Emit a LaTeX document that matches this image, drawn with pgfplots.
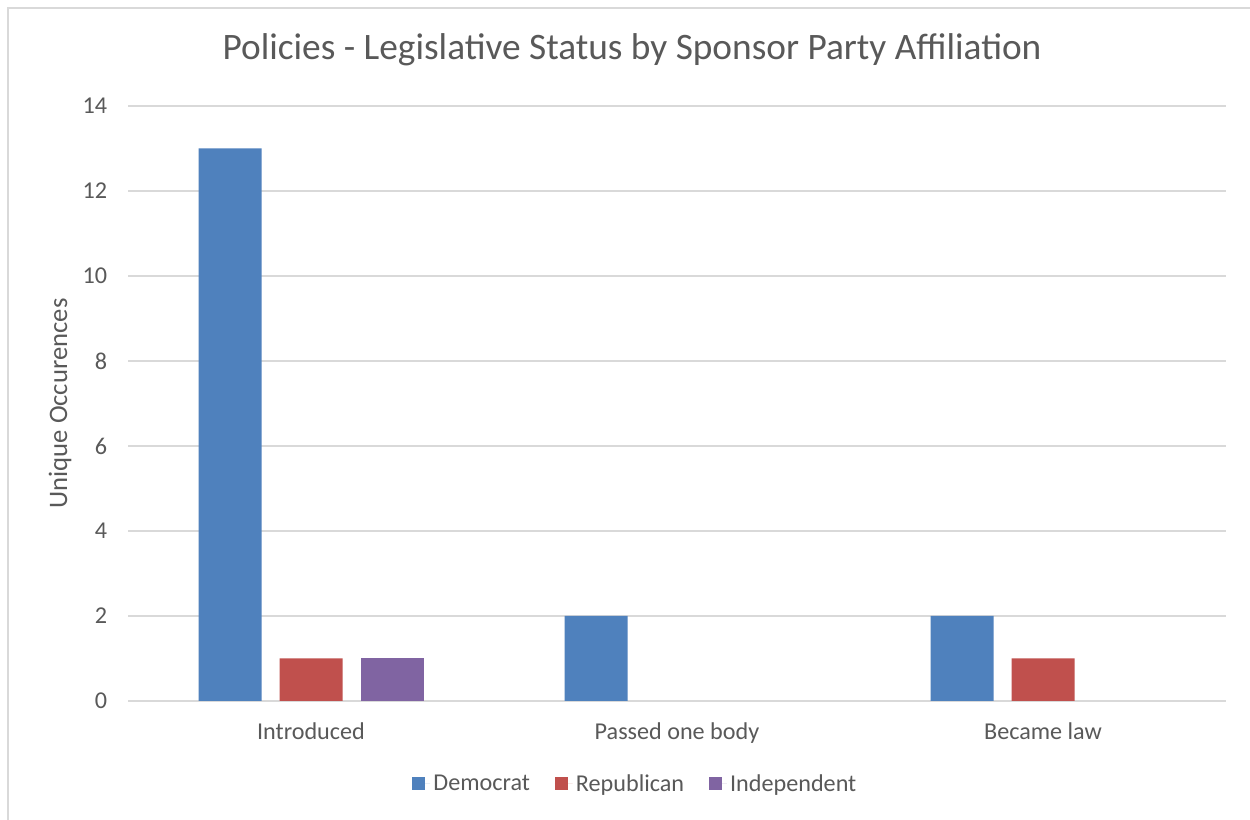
\documentclass[border=0pt]{standalone}
\usepackage{pgfplots}
\pgfplotsset{compat=1.18}
\usepackage{fontspec}
\setmainfont{Carlito}
\definecolor{dem}{HTML}{4F81BD}
\definecolor{rep}{HTML}{C0504D}
\definecolor{ind}{HTML}{8064A2}
\definecolor{gridc}{HTML}{D9D9D9}
\definecolor{txt}{HTML}{595959}
\begin{document}
\begin{tikzpicture}
\useasboundingbox (0pt,0pt) rectangle (750pt,492pt);
\fill[white] (0pt,0pt) rectangle (750pt,492pt);
\draw[gridc, line width=0.9pt] (4.8pt,0pt) -- (4.8pt,487.2pt) -- (750pt,487.2pt);
\node[txt, font=\fontsize{22.4}{26}\selectfont] at (379.2pt,462pt) {Policies - Legislative Status by Sponsor Party Affiliation};
\node[txt, font=\fontsize{16}{19}\selectfont, rotate=90] at (36pt,249.9pt) {Unique Occurences};
\begin{axis}[
  at={(76.8pt,71.4pt)}, anchor=south west,
  scale only axis, width=658.8pt, height=357pt,
  xmin=-0.5, xmax=2.5, ymin=0, ymax=14,
  ytick={0,2,...,14},
  xtick={0,1,2},
  xticklabels={Introduced, Passed one body, Became law},
  ymajorgrids, grid style={gridc, line width=0.9pt},
  axis line style={draw=none},
  major tick length=0pt,
  tick label style={txt, font=\fontsize{14.5}{17}\selectfont},
  /pgf/number format/assume math mode=true,
  yticklabel shift=9pt,
  xticklabel shift=9.6pt,
  ybar=10.8pt, bar width=37.8pt,
  legend columns=3,
  legend style={draw=none, fill=none, at={(0.4627,-0.1395)}, anchor=center,
    font=\fontsize{14.5}{17}\selectfont, text=txt,
    /tikz/every even column/.append style={column sep=13pt}},
  legend image code/.code={\fill[#1] (0pt,-3.9pt) rectangle (7.8pt,3.9pt); \path (0pt,0pt) -- (10.6pt,0pt);},
  clip=false,
]
\draw[gridc, line width=0.9pt] (axis cs:-0.5,0) -- (axis cs:2.5,0);
\addplot[fill=dem, draw=none] coordinates {(0,13) (1,2) (2,2)};
\addplot[fill=rep, draw=none] coordinates {(0,1) (2,1)};
\addplot[fill=ind, draw=none] coordinates {(0,1)};
\legend{Democrat, Republican, Independent}
\end{axis}
\end{tikzpicture}
\end{document}
